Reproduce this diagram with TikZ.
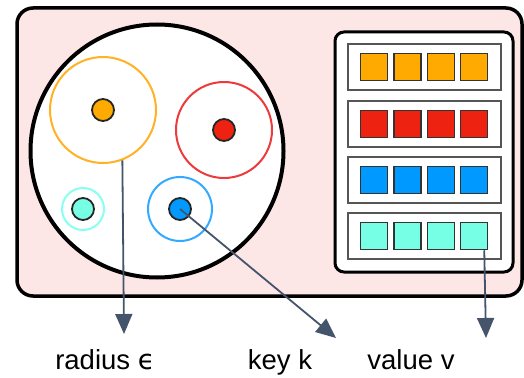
\documentclass[tikz,border=0pt]{standalone}
\usepackage{fontspec}
\setmainfont{Liberation Sans}
\newfontfamily\dvfont{DejaVu Sans}
\usetikzlibrary{arrows.meta}
\definecolor{bgpink}{HTML}{FDE6E6}
\definecolor{korange}{HTML}{FFAA00}
\definecolor{kred}{HTML}{EE2211}
\definecolor{kblue}{HTML}{0099FF}
\definecolor{kcyan}{HTML}{77FFE6}
\definecolor{rorange}{HTML}{FFB226}
\definecolor{rred}{HTML}{EE3A3A}
\definecolor{rblue}{HTML}{33AAFF}
\definecolor{rcyan}{HTML}{88FFF0}
\definecolor{arr}{HTML}{44546A}
\definecolor{rowgray}{HTML}{555555}
\begin{document}
\begin{tikzpicture}[x=1pt,y=-1pt,
  ring/.style={circle, draw, line width=2pt, minimum size=#1, inner sep=0pt},
  keydot/.style={circle, draw=black!85, line width=1.8pt, fill=#1, minimum size=22pt, inner sep=0pt},
  cell/.style={draw=black!80, line width=1.5pt, fill=#1, minimum size=27pt, inner sep=0pt},
  rowbox/.style={draw=rowgray, line width=2pt, fill=white, minimum width=153pt, minimum height=46pt, inner sep=0pt},
  pointer/.style={draw=arr, line width=1.8pt, -{Triangle[length=20pt,width=17pt]}},
  lbl/.style={font=\fontsize{27.5}{31}\selectfont, inner sep=0pt, anchor=base}]
\useasboundingbox (0,0) rectangle (524,377);
% outer frame
\node[draw=black, line width=3.5pt, fill=bgpink, rounded corners=16pt,
  minimum width=505pt, minimum height=288pt, inner sep=0pt] (frame) at (269.5,152) {};
% big circle
\node[draw=black, line width=4pt, fill=white, circle, minimum size=253pt, inner sep=0pt] (space) at (157,151) {};
% rings and keys
\node[ring=106pt, draw=rorange] (ro) at (103,110) {};
\node[keydot=korange] (ko) at (103,110) {};
\node[ring=96pt, draw=rred] (rr) at (224,130) {};
\node[keydot=kred] (kr) at (224,130) {};
\node[ring=42pt, draw=rcyan] (rc) at (83,209) {};
\node[keydot=kcyan] (kc) at (83,209) {};
\node[ring=64pt, draw=rblue] (rb) at (180,209) {};
\node[keydot=kblue] (kb) at (180,209) {};
% value store
\node[draw=black, line width=3pt, fill=white, rounded corners=9pt,
  minimum width=178pt, minimum height=240pt, inner sep=0pt] (store) at (424,152) {};
\foreach \y/\c [count=\i] in {67/korange,124/kred,180/kblue,236/kcyan}{
  \node[rowbox] (row\i) at (424.5,\y) {};
  \foreach \x [count=\j] in {374,407.5,441,474}{
    \node[cell=\c] (c\i\j) at (\x,\y) {};
  }
}
% labels
\node[lbl] (lr) at (105,369) {radius {\dvfont ϵ}};
\node[lbl] (lk) at (280,369) {key k};
\node[lbl] (lv) at (411,369) {value v};
% arrow ends
\coordinate (tr) at (124,334);
\coordinate (tk) at (336,338);
\coordinate (tv) at (486,338);
\draw[pointer] (ro.-69) -- (tr);
\draw[pointer] (kb.center) -- (tk);
\draw[pointer] (c44.south east) ++(-4pt,0) -- (tv);
\end{tikzpicture}
\end{document}
